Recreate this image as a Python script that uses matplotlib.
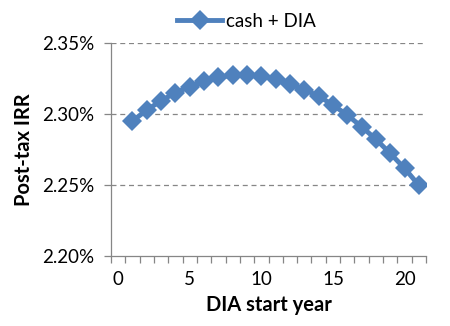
import numpy as np
import matplotlib
matplotlib.use("Agg")
import matplotlib.pyplot as plt
from matplotlib.ticker import FixedLocator, FuncFormatter

start_year = list(range(1, 22))
irr = [2.2951, 2.3028, 2.3094, 2.3150, 2.3192, 2.3230, 2.3258, 2.3274, 2.3274,
       2.3267, 2.3246, 2.3211, 2.3171, 2.3127, 2.3063, 2.2993, 2.2911, 2.2822,
       2.2723, 2.2618, 2.2498]
x_labels = [0, 5, 10, 15, 20]
y_ticks = [2.20, 2.25, 2.30, 2.35]

plt.rcParams['font.family'] = ['Lato', 'DejaVu Sans']

fig = plt.figure(figsize=(4.5, 3.26), dpi=100)
ax = fig.add_axes([0.2467, 0.2147, 0.70, 0.6533])

ax.plot(start_year, irr, color='#4F81BD', lw=3.5, marker='D', markersize=10,
        markeredgewidth=0, label='cash + DIA')

ax.set_xlim(-0.5, 21.5)
ax.set_ylim(2.20, 2.35)

# y axis
ax.set_yticks(y_ticks)
ax.yaxis.set_major_formatter(FuncFormatter(lambda v, p: f"{v:.2f}%"))
for y in y_ticks[1:]:
    ax.axhline(y, color='#868686', lw=0.9, ls=(0, (4, 3)), zorder=0)

# x axis: tick marks between categories, labels on categories
ax.set_xticks(x_labels)
ax.xaxis.set_minor_locator(FixedLocator(np.arange(-0.5, 22, 1)))
ax.tick_params(axis='x', which='major', length=0, pad=11)
ax.tick_params(axis='x', which='minor', length=5, color='#868686', width=0.9)
ax.tick_params(axis='y', length=5, color='#868686', width=0.9, pad=7)
ax.tick_params(labelsize=13.5, labelcolor='black')

for s in ['top', 'right']:
    ax.spines[s].set_visible(False)
for s in ['left', 'bottom']:
    ax.spines[s].set_color('#868686')
    ax.spines[s].set_linewidth(0.9)

ax.set_xlabel('DIA start year', fontsize=14.5, fontweight='bold', labelpad=5)
ax.set_ylabel('Post-tax IRR', fontsize=14.5, fontweight='bold', labelpad=6)

ax.legend(loc='lower center', bbox_to_anchor=(0.43, 1.0), frameon=False,
          fontsize=13.5, handlelength=2.4, handletextpad=0.2, borderaxespad=0.3)

fig.savefig('out.png', dpi=100)
